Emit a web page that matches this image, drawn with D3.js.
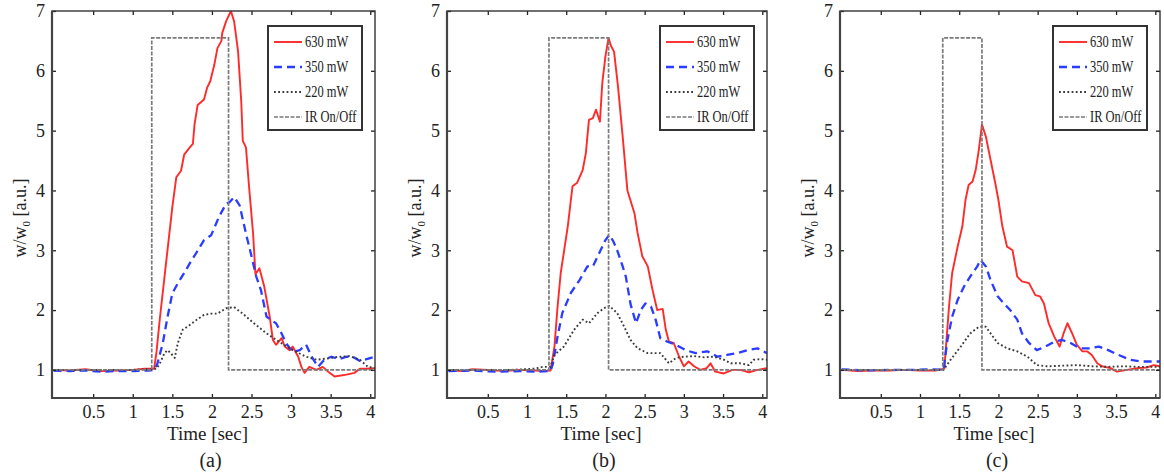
<!DOCTYPE html>
<html>
<head>
<meta charset="utf-8">
<script src="https://cdn.jsdelivr.net/npm/d3@7/dist/d3.min.js"></script>
<style>
	html, body { margin: 0; padding: 0; background: #fff; }
	svg { display: block; }
	text { font-family: "Liberation Serif", "Times New Roman", serif; fill: #222; }
</style>
</head>
<body>
<script>
// values: [time (s), w/w0]
var panelLetters = ['(a)', '(b)', '(c)'];
var seriesNames = ['630 mW', '350 mW', '220 mW', 'IR On/Off'];
var xTicks = [0.5, 1, 1.5, 2, 2.5, 3, 3.5, 4];
var yTicks = [1, 2, 3, 4, 5, 6, 7];

var a630 = [[0, 1.0], [0.2, 0.99], [0.4, 1.01], [0.6, 0.98], [0.8, 0.99], [1.0, 1.0], [1.15, 1.02], [1.27, 1.02], [1.3, 1.3], [1.34, 1.83], [1.42, 2.78], [1.5, 3.72], [1.55, 4.22], [1.61, 4.33], [1.65, 4.6], [1.72, 4.72], [1.76, 4.78], [1.78, 5.1], [1.82, 5.43], [1.9, 5.52], [1.94, 5.72], [1.98, 5.83], [2.03, 6.1], [2.07, 6.38], [2.12, 6.5], [2.13, 6.63], [2.18, 6.83], [2.24, 7.0], [2.28, 6.83], [2.33, 6.33], [2.37, 5.5], [2.39, 4.83], [2.43, 4.72], [2.47, 4.05], [2.52, 3.28], [2.55, 2.6], [2.6, 2.7], [2.66, 2.4], [2.73, 1.89], [2.77, 1.5], [2.81, 1.42], [2.88, 1.53], [2.92, 1.39], [2.98, 1.33], [3.02, 1.39], [3.09, 1.22], [3.13, 1.05], [3.17, 0.95], [3.23, 1.05], [3.32, 1.0], [3.4, 1.05], [3.47, 0.97], [3.55, 0.89], [3.7, 0.92], [3.8, 0.95], [3.87, 1.02], [3.95, 1.02], [4.06, 1.03]];
var a350 = [[0, 0.99], [0.2, 0.98], [0.4, 0.99], [0.6, 0.97], [0.8, 0.98], [1.0, 0.98], [1.2, 0.99], [1.27, 1.0], [1.31, 1.1], [1.38, 1.45], [1.44, 1.89], [1.5, 2.28], [1.57, 2.45], [1.65, 2.62], [1.72, 2.78], [1.8, 2.95], [1.9, 3.17], [1.99, 3.25], [2.09, 3.56], [2.18, 3.78], [2.22, 3.8], [2.28, 3.89], [2.35, 3.75], [2.43, 3.28], [2.5, 2.9], [2.56, 2.56], [2.62, 2.33], [2.69, 1.89], [2.75, 1.83], [2.81, 1.78], [2.88, 1.61], [2.94, 1.44], [3.02, 1.3], [3.11, 1.33], [3.19, 1.42], [3.26, 1.22], [3.34, 1.05], [3.42, 1.17], [3.51, 1.22], [3.61, 1.18], [3.7, 1.22], [3.78, 1.22], [3.87, 1.15], [3.93, 1.17], [4.06, 1.22]];
var a220 = [[0, 1.0], [0.5, 1.0], [1.0, 1.0], [1.3, 1.02], [1.34, 1.1], [1.4, 1.28], [1.44, 1.33], [1.48, 1.28], [1.53, 1.2], [1.57, 1.45], [1.63, 1.67], [1.72, 1.75], [1.8, 1.83], [1.9, 1.92], [1.99, 1.94], [2.07, 1.94], [2.18, 2.03], [2.28, 2.05], [2.39, 1.94], [2.52, 1.79], [2.69, 1.61], [2.85, 1.47], [3.02, 1.33], [3.19, 1.22], [3.32, 1.17], [3.45, 1.19], [3.61, 1.22], [3.74, 1.23], [3.87, 1.17], [3.97, 1.05], [4.06, 1.03]];

var b630 = [[0, 0.99], [0.2, 0.98], [0.3, 1.01], [0.5, 1.0], [0.7, 0.98], [0.9, 1.0], [1.1, 0.99], [1.2, 0.98], [1.3, 0.99], [1.35, 1.39], [1.39, 2.06], [1.43, 2.62], [1.52, 3.4], [1.58, 4.07], [1.64, 4.13], [1.71, 4.34], [1.75, 4.62], [1.79, 5.18], [1.84, 5.21], [1.88, 5.35], [1.93, 5.15], [1.96, 5.8], [2.0, 6.24], [2.04, 6.55], [2.07, 6.42], [2.11, 6.32], [2.16, 5.74], [2.22, 4.9], [2.28, 4.0], [2.37, 3.62], [2.41, 3.29], [2.47, 2.9], [2.54, 2.73], [2.6, 2.34], [2.66, 2.0], [2.73, 2.02], [2.77, 1.67], [2.81, 1.47], [2.87, 1.45], [2.94, 1.22], [3.0, 1.06], [3.06, 1.14], [3.13, 1.06], [3.21, 1.0], [3.29, 1.03], [3.34, 1.11], [3.4, 0.97], [3.51, 0.94], [3.62, 1.0], [3.72, 1.0], [3.83, 0.96], [3.94, 1.0], [4.06, 1.03]];
var b350 = [[0, 0.98], [0.3, 0.99], [0.6, 0.97], [0.9, 0.98], [1.1, 0.97], [1.3, 0.98], [1.33, 1.1], [1.39, 1.56], [1.45, 1.95], [1.56, 2.29], [1.67, 2.5], [1.77, 2.73], [1.84, 2.73], [1.92, 2.95], [2.0, 3.17], [2.05, 3.26], [2.1, 3.15], [2.15, 3.0], [2.22, 2.73], [2.26, 2.56], [2.32, 2.1], [2.39, 1.78], [2.45, 2.0], [2.51, 2.11], [2.58, 2.06], [2.64, 1.84], [2.7, 1.53], [2.79, 1.47], [2.9, 1.42], [3.02, 1.33], [3.15, 1.28], [3.3, 1.31], [3.43, 1.22], [3.55, 1.25], [3.68, 1.28], [3.81, 1.33], [3.94, 1.36], [4.06, 1.28]];
var b220 = [[0, 1.0], [0.4, 1.0], [0.8, 1.0], [1.1, 1.02], [1.2, 1.05], [1.3, 1.05], [1.35, 1.25], [1.47, 1.39], [1.6, 1.67], [1.71, 1.84], [1.79, 1.78], [1.9, 1.95], [1.98, 2.03], [2.05, 2.07], [2.15, 1.95], [2.24, 1.72], [2.32, 1.5], [2.41, 1.36], [2.54, 1.28], [2.7, 1.28], [2.81, 1.11], [2.9, 1.2], [3.0, 1.22], [3.13, 1.23], [3.26, 1.21], [3.38, 1.22], [3.51, 1.17], [3.6, 1.11], [3.72, 1.11], [3.83, 1.08], [3.89, 1.17], [3.98, 1.18], [4.06, 1.17]];

var c630 = [[0, 1.0], [0.2, 0.98], [0.4, 0.99], [0.6, 0.99], [0.8, 1.0], [1.0, 0.99], [1.2, 0.99], [1.31, 1.02], [1.37, 2.06], [1.41, 2.62], [1.48, 3.06], [1.54, 3.4], [1.58, 3.84], [1.62, 4.09], [1.67, 4.15], [1.71, 4.34], [1.75, 4.68], [1.79, 5.1], [1.84, 4.9], [1.9, 4.51], [1.96, 4.12], [2.0, 3.84], [2.05, 3.4], [2.11, 3.06], [2.18, 3.0], [2.24, 2.56], [2.3, 2.48], [2.39, 2.45], [2.47, 2.25], [2.53, 2.23], [2.58, 2.11], [2.64, 1.78], [2.71, 1.56], [2.78, 1.39], [2.83, 1.61], [2.88, 1.78], [2.94, 1.61], [3.0, 1.42], [3.07, 1.31], [3.13, 1.31], [3.19, 1.25], [3.26, 1.11], [3.32, 1.06], [3.43, 1.03], [3.51, 0.97], [3.64, 1.0], [3.77, 1.03], [3.89, 1.04], [3.98, 1.08], [4.06, 1.06]];
var c350 = [[0, 1.01], [0.3, 0.99], [0.6, 1.0], [0.9, 1.0], [1.1, 1.01], [1.3, 1.0], [1.35, 1.5], [1.41, 1.89], [1.48, 2.17], [1.56, 2.39], [1.64, 2.56], [1.73, 2.73], [1.77, 2.84], [1.84, 2.73], [1.9, 2.5], [1.99, 2.23], [2.07, 2.11], [2.15, 2.0], [2.24, 1.84], [2.3, 1.61], [2.39, 1.45], [2.49, 1.33], [2.6, 1.39], [2.71, 1.47], [2.81, 1.5], [2.92, 1.45], [3.04, 1.36], [3.17, 1.36], [3.28, 1.39], [3.4, 1.33], [3.53, 1.25], [3.68, 1.17], [3.81, 1.14], [3.94, 1.14], [4.06, 1.14]];
var c220 = [[0, 1.0], [0.5, 1.0], [1.0, 1.0], [1.3, 1.0], [1.39, 1.17], [1.52, 1.39], [1.64, 1.61], [1.75, 1.72], [1.84, 1.72], [1.9, 1.61], [1.99, 1.45], [2.11, 1.36], [2.24, 1.31], [2.37, 1.22], [2.49, 1.08], [2.62, 1.06], [2.8, 1.07], [3.0, 1.08], [3.2, 1.06], [3.4, 1.05], [3.6, 1.06], [3.8, 1.05], [4.06, 1.05]];

// IR pulse: switch on / off times per panel, and the drawn pulse level
var irOn = [1.24, 1.28, 1.29];
var irOff = [2.21, 2.04, 1.79];
var irLevel = [1, 6.55];

(function(d3) {
	'use strict';

	var panelLefts = [52, 447, 840], panelWidths = [323, 320, 320];
	var plotTop = 11, plotBottom = 398;
	var curves = [[a630, a350, a220], [b630, b350, b220], [c630, c350, c220]];
	var styles = [
		{ color: '#ff2a2a', width: 1.9, dash: null },
		{ color: '#2a3cff', width: 2.3, dash: '8,5' },
		{ color: '#3a3a3a', width: 1.9, dash: '1.8,2.4' },
		{ color: '#7a7a7a', width: 1.7, dash: '4,1.5' }
	];

	var svg = d3.select('body').append('svg').attr('width', 1164).attr('height', 475);

	var styleLine = function(sel, s) {
		sel.attr('fill', 'none').attr('stroke', s.color).attr('stroke-width', s.width)
			.attr('stroke-dasharray', s.dash);
	};

	var irPath = function(i) {
		return [[0, irLevel[0]], [irOn[i], irLevel[0]], [irOn[i], irLevel[1]],
			[irOff[i], irLevel[1]], [irOff[i], irLevel[0]], [4.06, irLevel[0]]];
	};

	var drawPanel = function(i) {
		var left = panelLefts[i], right = left + panelWidths[i];
		var x = d3.scaleLinear().domain([-0.02, 4.06]).range([left, right]);
		var y = d3.scaleLinear().domain([0.53, 7]).range([plotBottom, plotTop]);
		var g = svg.append('g');

		g.append('clipPath').attr('id', 'clip' + i).append('rect')
			.attr('x', left).attr('y', plotTop).attr('width', right - left).attr('height', plotBottom - plotTop);

		/** curves */
		var line = d3.line().x(function(d) { return x(d[0]); }).y(function(d) { return y(d[1]); });
		var lines = g.append('g').attr('clip-path', 'url(#clip' + i + ')');
		curves[i].forEach(function(data, k) {
			lines.append('path').datum(data).attr('d', line).call(styleLine, styles[k])
				.attr('stroke-linejoin', 'round');
		});
		lines.append('path').datum(irPath(i)).attr('d', line).call(styleLine, styles[3]);

		/** axes, ticks pointing inwards */
		var fmt = function(d) { return d; };
		g.append('g').attr('transform', 'translate(0,' + plotBottom + ')')
			.call(d3.axisBottom(x).tickValues(xTicks).tickFormat(fmt).tickSizeInner(-4).tickSizeOuter(0).tickPadding(7));
		g.append('g').attr('transform', 'translate(' + left + ',0)')
			.call(d3.axisLeft(y).tickValues(yTicks).tickFormat(fmt).tickSizeInner(-4).tickSizeOuter(0).tickPadding(7));
		g.append('g').attr('transform', 'translate(0,' + plotTop + ')')
			.call(d3.axisTop(x).tickValues(xTicks).tickFormat('').tickSizeInner(-4).tickSizeOuter(0));
		g.append('g').attr('transform', 'translate(' + right + ',0)')
			.call(d3.axisRight(y).tickValues(yTicks).tickFormat('').tickSizeInner(-4).tickSizeOuter(0));
		g.selectAll('.domain').remove();
		g.selectAll('.tick line').attr('stroke', '#222').attr('stroke-width', 1.3);
		g.selectAll('.tick text').attr('font-size', 18).attr('fill', '#333');

		/** frame */
		g.append('rect').attr('x', left).attr('y', plotTop).attr('width', right - left).attr('height', plotBottom - plotTop)
			.attr('fill', 'none').attr('stroke', '#333').attr('stroke-width', 1.4);
		g.append('path').attr('d', 'M' + left + ',' + plotTop + 'V' + plotBottom + 'H' + right)
			.attr('fill', 'none').attr('stroke', '#444').attr('stroke-width', 2.2);

		/** labels */
		var mid = (left + right) / 2;
		g.append('text').attr('x', mid - 6).attr('y', 440).attr('text-anchor', 'middle')
			.attr('font-size', 19).text('Time [sec]');
		g.append('text').attr('x', mid - 3).attr('y', 467).attr('text-anchor', 'middle')
			.attr('font-size', 20).text(panelLetters[i]);
		var yl = g.append('text').attr('transform', 'translate(' + (left - 26) + ',218) rotate(-90)')
			.attr('text-anchor', 'middle').attr('font-size', 18);
		yl.append('tspan').text('w/w');
		yl.append('tspan').attr('font-size', 11).attr('dy', 4).text('0');
		yl.append('tspan').attr('dy', -4).text(' [a.u.]');

		/** legend */
		var lx = right - 107, ly = 26, lw = 94, lh = 104;
		var legend = g.append('g');
		legend.append('rect').attr('x', lx).attr('y', ly).attr('width', lw).attr('height', lh)
			.attr('fill', '#fff').attr('stroke', '#333').attr('stroke-width', 2);
		seriesNames.forEach(function(name, k) {
			var ry = ly + 16 + k * 25;
			legend.append('line').attr('x1', lx + 6).attr('x2', lx + 34).attr('y1', ry).attr('y2', ry)
				.call(styleLine, styles[k]);
			legend.append('text').attr('transform', 'translate(' + (lx + 37) + ',' + (ry + 5) + ') scale(0.78,1)')
				.attr('font-size', 16).text(name);
		});
	};

	[0, 1, 2].forEach(drawPanel);
})(d3);
</script>
</body>
</html>
